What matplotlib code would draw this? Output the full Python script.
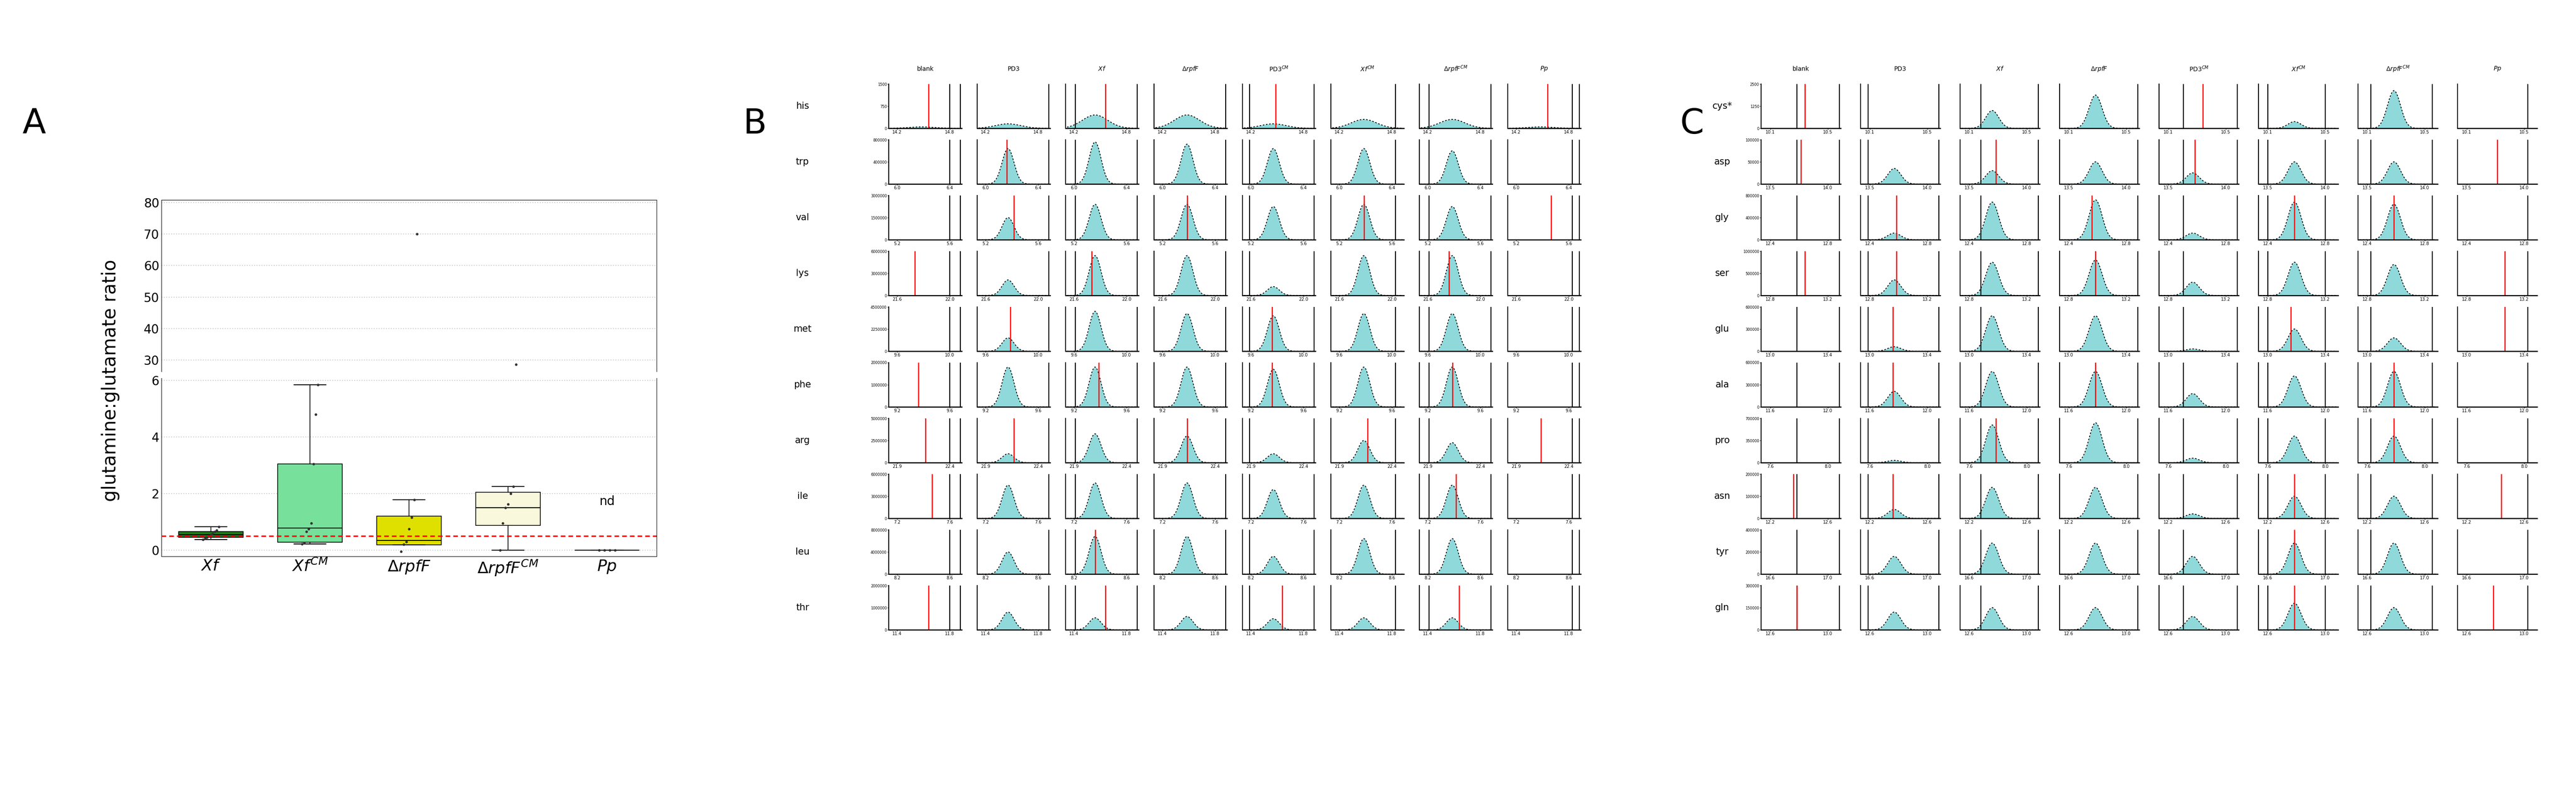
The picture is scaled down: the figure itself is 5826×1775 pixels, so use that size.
import numpy as np
import matplotlib
matplotlib.use("Agg")
import matplotlib.pyplot as plt

W, H = 5826, 1775
fig = plt.figure(figsize=(W/100, H/100), dpi=100)

def px(x0, y0, x1, y1):
    return [x0/W, 1-y1/H, (x1-x0)/W, (y1-y0)/H]

# ---------------- Panel A data ----------------
groupsA = ["$Xf$", "$Xf^{CM}$", "$\\Delta rpfF$", "$\\Delta rpfF^{CM}$", "$Pp$"]
colorsA = ["#1E7A1E", "#77E09A", "#E0E000", "#FAF8DC", "#000000"]
q1 = [0.45, 0.28, 0.18, 0.88, 0.0]
med = [0.55, 0.78, 0.35, 1.50, 0.0]
q3 = [0.65, 3.05, 1.20, 2.05, 0.0]
wlo = [0.38, 0.22, 0.18, 0.0, 0.0]
whi = [0.82, 5.85, 1.78, 2.25, 0.0]
pointsA = [[0.38, 0.42, 0.45, 0.50, 0.55, 0.60, 0.65, 0.70, 0.82],
           [0.22, 0.25, 0.65, 0.75, 0.95, 3.05, 4.80, 5.85],
           [-0.05, 0.20, 0.30, 0.75, 1.15, 1.78, 70.0],
           [0.0, 0.95, 1.50, 1.62, 2.00, 2.25, 28.7],
           [0.0, 0.0, 0.0, 0.0]]
ref_ratio = 0.5

axU = fig.add_axes(px(365, 452, 1485, 840))
axL = fig.add_axes(px(365, 855, 1485, 1258))
stats = [dict(q1=q1[i], med=med[i], q3=q3[i], whislo=wlo[i], whishi=whi[i], fliers=[]) for i in range(5)]
for ax in (axU, axL):
    b = ax.bxp(stats, positions=range(1, 6), widths=0.65, patch_artist=True,
               showfliers=False, medianprops=dict(color="black", lw=1.5),
               whiskerprops=dict(lw=1.2), capprops=dict(lw=1.5))
    for p, c in zip(b["boxes"], colorsA):
        p.set_facecolor(c); p.set_edgecolor("black"); p.set_linewidth(1.2)
    for i, pts in enumerate(pointsA):
        xs = i + 1 + np.linspace(-0.08, 0.08, len(pts))
        ax.scatter(xs, pts, s=10, color="#333333", zorder=5)
    ax.axhline(ref_ratio, color="red", ls=(0, (3, 2)), lw=2.5, zorder=6)
    ax.set_xlim(0.5, 5.5)
    ax.grid(axis="y", ls=":", color="#cccccc", lw=1.5)
    ax.tick_params(labelsize=20, length=0)
axU.set_ylim(26.4, 80.8)
axU.set_yticks([30, 40, 50, 60, 70, 80])
axL.set_ylim(-0.22, 6.08)
axL.set_yticks([0, 2, 4, 6])
axU.set_xticks([])
axU.spines["bottom"].set_visible(False)
axL.spines["top"].set_visible(False)
axL.set_xticks(range(1, 6))
axL.set_xticklabels(groupsA, fontsize=26)
axL.text(5, 1.6, "nd", fontsize=20, ha="center")
fig.text(250/W, 1-860/H, "glutamine:glutamate ratio", rotation=90, fontsize=30,
         ha="center", va="center")
fig.text(50/W, 1-280/H, "A", fontsize=56, va="center")

# ---------------- Panels B / C data ----------------
colsBC = ["blank", "PD3", "$Xf$", "$\\Delta rpfF$", "PD3$^{CM}$", "$Xf^{CM}$", "$\\Delta rpfF^{CM}$", "$Pp$"]
rowsB = ["his", "trp", "val", "lys", "met", "phe", "arg", "ile", "leu", "thr"]
rowsC = ["cys*", "asp", "gly", "ser", "glu", "ala", "pro", "asn", "tyr", "gln"]
heightsB = [[0.03, 0.10, 0.30, 0.30, 0.10, 0.20, 0.20, 0.03],
            [0.00, 0.80, 0.95, 0.90, 0.80, 0.80, 0.75, 0.00],
            [0.00, 0.50, 0.80, 0.80, 0.75, 0.80, 0.75, 0.00],
            [0.00, 0.35, 0.90, 0.90, 0.20, 0.90, 0.90, 0.00],
            [0.00, 0.30, 0.90, 0.85, 0.80, 0.85, 0.85, 0.00],
            [0.00, 0.90, 0.90, 0.90, 0.85, 0.90, 0.90, 0.00],
            [0.00, 0.20, 0.65, 0.60, 0.20, 0.50, 0.45, 0.00],
            [0.00, 0.75, 0.80, 0.80, 0.65, 0.75, 0.75, 0.00],
            [0.00, 0.50, 0.85, 0.85, 0.40, 0.80, 0.80, 0.00],
            [0.00, 0.40, 0.27, 0.30, 0.25, 0.27, 0.27, 0.00]]
heightsC = [[0.00, 0.00, 0.40, 0.75, 0.00, 0.15, 0.85, 0.00],
            [0.00, 0.35, 0.30, 0.50, 0.25, 0.50, 0.50, 0.00],
            [0.00, 0.15, 0.85, 0.90, 0.15, 0.85, 0.80, 0.00],
            [0.00, 0.35, 0.75, 0.80, 0.30, 0.75, 0.70, 0.00],
            [0.00, 0.10, 0.80, 0.80, 0.05, 0.50, 0.30, 0.00],
            [0.00, 0.35, 0.80, 0.80, 0.30, 0.70, 0.80, 0.00],
            [0.00, 0.05, 0.85, 0.90, 0.10, 0.60, 0.60, 0.00],
            [0.00, 0.20, 0.70, 0.70, 0.10, 0.50, 0.50, 0.00],
            [0.00, 0.40, 0.70, 0.70, 0.40, 0.70, 0.70, 0.00],
            [0.00, 0.40, 0.50, 0.50, 0.30, 0.60, 0.50, 0.00]]
centers = [0.45, 0.42, 0.40, 0.45, 0.42, 0.45, 0.45, 0.45]
redB = [[0.55, np.nan, 0.55, np.nan, 0.45, np.nan, np.nan, 0.55],
        [np.nan, 0.40, np.nan, np.nan, np.nan, np.nan, np.nan, np.nan],
        [np.nan, 0.50, np.nan, 0.45, np.nan, 0.45, np.nan, 0.60],
        [0.35, np.nan, 0.35, np.nan, np.nan, np.nan, 0.40, np.nan],
        [np.nan, 0.45, np.nan, np.nan, 0.40, np.nan, np.nan, np.nan],
        [0.40, np.nan, 0.45, np.nan, 0.40, np.nan, 0.45, np.nan],
        [0.50, 0.50, np.nan, 0.45, np.nan, 0.50, np.nan, 0.45],
        [0.60, np.nan, np.nan, np.nan, np.nan, np.nan, 0.50, np.nan],
        [np.nan, np.nan, 0.40, np.nan, np.nan, np.nan, np.nan, np.nan],
        [0.55, np.nan, 0.55, np.nan, 0.55, np.nan, 0.55, np.nan]]
redC = [[0.55, np.nan, np.nan, np.nan, 0.55, np.nan, np.nan, np.nan],
        [0.50, np.nan, 0.45, np.nan, 0.45, np.nan, np.nan, 0.50],
        [np.nan, 0.45, np.nan, 0.40, np.nan, 0.45, 0.45, np.nan],
        [0.55, 0.45, np.nan, 0.45, np.nan, np.nan, np.nan, 0.60],
        [np.nan, 0.40, np.nan, np.nan, np.nan, 0.40, np.nan, 0.60],
        [np.nan, 0.40, np.nan, 0.45, np.nan, np.nan, 0.45, np.nan],
        [np.nan, np.nan, 0.45, np.nan, np.nan, np.nan, 0.45, np.nan],
        [0.40, 0.40, np.nan, np.nan, np.nan, 0.45, np.nan, 0.55],
        [np.nan, np.nan, np.nan, np.nan, np.nan, 0.45, np.nan, np.nan],
        [0.45, np.nan, np.nan, np.nan, np.nan, 0.45, np.nan, 0.45]]
# black boundary lines per column (fraction of x range)
bordersB = [(0.85, 1.0), (1.0,), (0.12, 1.0), (1.0,), (0.08, 1.0), (0.9,), (0.12, 1.0), (0.9, 1.0)]
bordersC = [(0.45, 1.0), (0.08, 1.0), (0.25, 1.0), (1.0,), (0.3, 1.0), (0.1, 0.85), (0.15, 0.95), (0.9,)]
xlimB = [(14.2, 14.8), (6.0, 6.4), (5.2, 5.6), (21.6, 22.0), (9.6, 10.0),
         (9.2, 9.6), (21.9, 22.4), (7.2, 7.6), (8.2, 8.6), (11.4, 11.8)]
xlimC = [(10.1, 10.5), (13.5, 14.0), (12.4, 12.8), (12.8, 13.2), (13.0, 13.4),
         (11.6, 12.0), (7.6, 8.0), (12.2, 12.6), (16.6, 17.0), (12.6, 13.0)]
ytopB = ["1500", "800000", "3000000", "6000000", "4500000", "2000000", "5000000", "6000000", "8000000", "2000000"]
ytopC = ["2500", "100000", "800000", "1000000", "600000", "600000", "700000", "200000", "400000", "300000"]

xx = np.linspace(0, 1, 200)

def draw_grid(x0, step, aw, labx, rows, heights, reds, borders, xlims, ytops, broad_first):
    for r in range(10):
        top = 190 + r*126
        for c in range(8):
            left = x0 + c*step
            ax = fig.add_axes(px(left, top, left+aw, top+100))
            h = heights[r][c]
            wdt = 0.18 if (r == 0 and broad_first) else 0.085
            yy = h*np.exp(-0.5*((xx-centers[c])/wdt)**2)
            if h > 0:
                ax.fill_between(xx, 0, yy, color="#8FD9DB", lw=0)
                ax.plot(xx, yy, color="black", ls=(0, (2, 2)), lw=1.3)
            for bx in borders[c]:
                ax.axvline(bx, color="black", lw=1.6)
            if not np.isnan(reds[r][c]):
                ax.axvline(reds[r][c], color="red", lw=1.8)
            ax.set_xlim(-0.02, 1.02)
            ax.set_ylim(0, 1.0)
            ax.set_xticks([0.1, 0.85])
            ax.set_xticklabels([f"{xlims[r][0]:.1f}", f"{xlims[r][1]:.1f}"], fontsize=7)
            for s in ("top", "right"):
                ax.spines[s].set_visible(False)
            ax.spines["left"].set_linewidth(1.5)
            ax.spines["bottom"].set_linewidth(1.8)
            ax.tick_params(length=2, pad=1)
            if c == 0:
                ax.set_yticks([0, 0.5, 1.0])
                ax.set_yticklabels(["0", str(int(ytops[r])//2), ytops[r]], fontsize=6)
                fig.text(labx/W, 1-(top+50)/H, rows[r], fontsize=15, ha="center", va="center")
            else:
                ax.set_yticks([])
            if r == 0:
                fig.text((left+aw/2)/W, 1-156/H, colsBC[c], fontsize=10, ha="center", va="center")

draw_grid(2010, 200, 165, 1815, rowsB, heightsB, redB, bordersB, xlimB, ytopB, True)
draw_grid(3983, 225, 180, 3895, rowsC, heightsC, redC, bordersC, xlimC, ytopC, False)
fig.text(1680/W, 1-280/H, "B", fontsize=56, va="center")
fig.text(3800/W, 1-280/H, "C", fontsize=56, va="center")

fig.savefig("out.png", dpi=100, facecolor="white")
